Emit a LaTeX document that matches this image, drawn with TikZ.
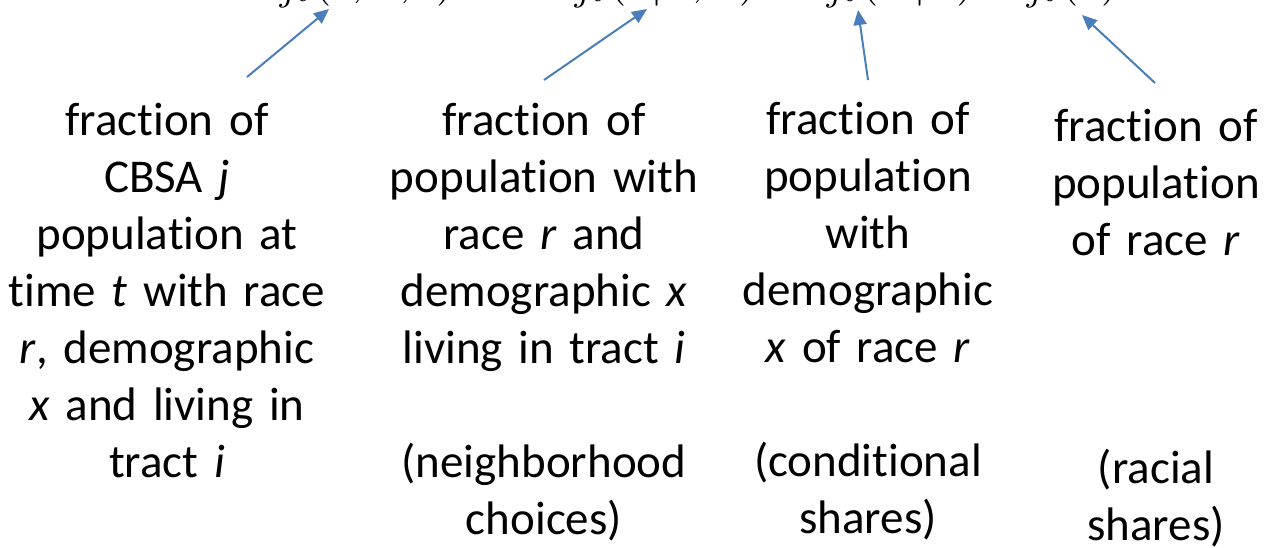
\documentclass[tikz,border=0pt]{standalone}
\usepackage{graphicx}
\usepackage{fontspec}
\setmainfont{Carlito}[Ligatures={NoCommon}]
\usetikzlibrary{arrows.meta}
\definecolor{arrowblue}{RGB}{74,126,187}
\tikzset{
  coltext/.style={font=\fontsize{47}{57}\selectfont, align=center, text width=340pt, inner sep=0pt, anchor=base},
  term/.style={inner sep=0pt, anchor=base west},
  arr/.style={draw=arrowblue, line width=2pt, -{Triangle[length=15pt,width=13pt]}, fill=arrowblue}
}
\newcommand{\bigmath}[1]{\scalebox{4.7}{$#1$}}
\begin{document}
\begin{tikzpicture}[x=1pt,y=-1pt]
\useasboundingbox (0,0) rectangle (1265,547);
\clip (0,0) rectangle (1265,547);
% clipped formula at the top
\node[term] (t1) at (250,-6) {\bigmath{S_{jt}(r,x,i) =}};
\node[term] (t2) at (545,-6) {\bigmath{S_{jt}(i\,|\,r,x)}};
\node[term] (t3) at (797,-6) {\bigmath{S_{jt}(x\,|\,r)}};
\node[term] (t4) at (997,-6) {\bigmath{S_{jt}(r)}};
% text columns
\node[coltext] (c1) at (167,135) {fraction of\\ CBSA \textit{j}\\ population at\\ time \textit{t} with race\\ \textit{r}, demographic\\ \textit{x} and living in\\ tract \textit{i}};
\node[coltext] (c2) at (544,135) {fraction of\\ population with\\ race \textit{r} and\\ demographic \textit{x}\\ living in tract \textit{i}\\[57pt] (neighborhood\\ choices)};
\node[coltext] (c3) at (868,134) {fraction of\\ population\\ with\\ demographic\\ \textit{x} of race \textit{r}\\[57pt] (conditional\\ shares)};
\node[coltext] (c4) at (1156,141) {fraction of\\ population\\ of race \textit{r}\\[171pt] (racial\\ shares)};
% arrows
\coordinate (s1) at (247,77);  \coordinate (e1) at (329,9);
\coordinate (s2) at (544,80);  \coordinate (e2) at (647,9);
\coordinate (s3) at (868,80);  \coordinate (e3) at (858,10);
\coordinate (s4) at (1155,83); \coordinate (e4) at (1082,15);
\draw[arr] (s1) -- (e1);
\draw[arr] (s2) -- (e2);
\draw[arr] (s3) -- (e3);
\draw[arr] (s4) -- (e4);
\end{tikzpicture}
\end{document}
